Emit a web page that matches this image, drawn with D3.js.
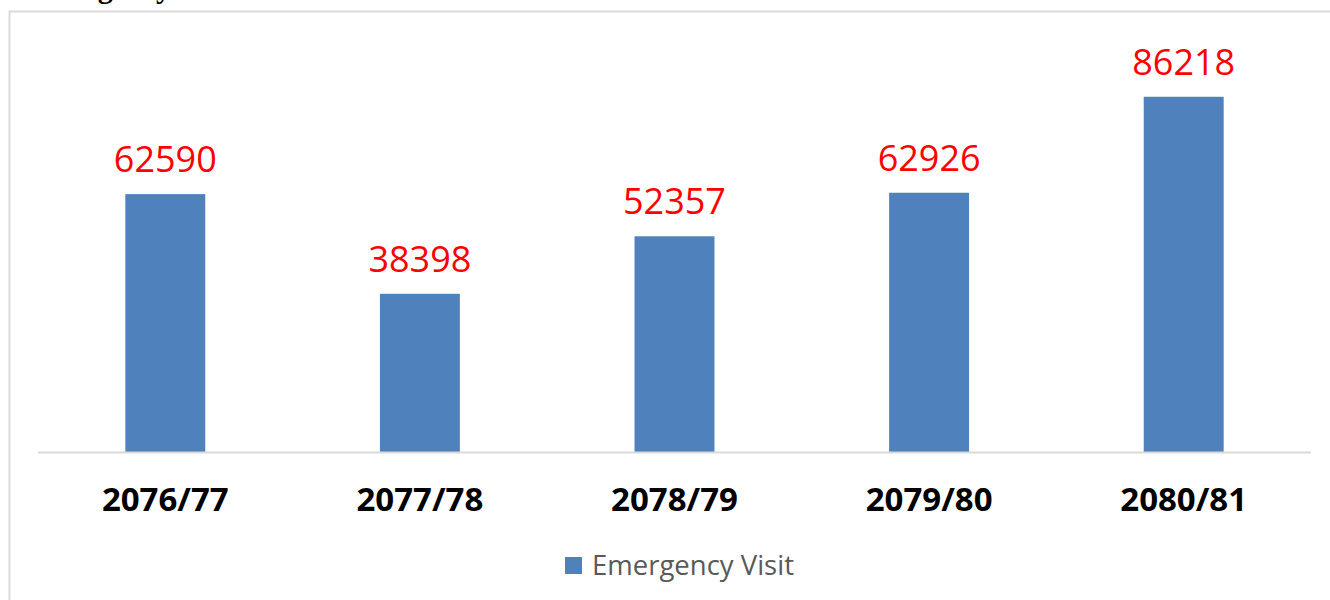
<!DOCTYPE html>
<html>
<head>
<meta charset="utf-8">
<script src="https://cdn.jsdelivr.net/npm/d3@7"></script>
<style>
  body { margin: 0; background: #fff; }
  #chart { width: 1330px; height: 600px; }
</style>
</head>
<body>
<div id="chart"></div>
<script>
const years = ["2076/77", "2077/78", "2078/79", "2079/80", "2080/81"];
const visits = [62590, 38398, 52357, 62926, 86218];
const seriesName = "Emergency Visit";

const width = 1330, height = 600;
const margin = { left: 38, right: 19, top: 40, bottom: 148 };

const svg = d3.select("#chart")
  .append("svg")
  .attr("width", width)
  .attr("height", height);

// title from the page, cut off at the top edge
svg.append("text")
  .attr("x", 26)
  .attr("y", -2)
  .attr("font-family", "Liberation Serif, serif")
  .attr("font-weight", "bold")
  .attr("font-size", 30)
  .text("Emergency Visit");

// chart area border
svg.append("rect")
  .attr("x", 9.5)
  .attr("y", 11.5)
  .attr("width", 1340)
  .attr("height", 620)
  .attr("fill", "none")
  .attr("stroke", "#d9d9d9")
  .attr("stroke-width", 2);

const x = d3.scaleBand()
  .domain(years)
  .range([margin.left, width - margin.right])
  .paddingInner(0.686)
  .paddingOuter(0.343);

const y = d3.scaleLinear()
  .domain([0, 100000])
  .range([height - margin.bottom, margin.top]);

svg.append("g")
  .selectAll("rect")
  .data(visits)
  .enter().append("rect")
  .attr("x", (d, i) => x(years[i]))
  .attr("y", d => y(d))
  .attr("width", x.bandwidth())
  .attr("height", d => y(0) - y(d))
  .attr("fill", "#4f81bd");

// baseline
svg.append("line")
  .attr("x1", margin.left)
  .attr("x2", width - margin.right)
  .attr("y1", y(0) + 0.5)
  .attr("y2", y(0) + 0.5)
  .attr("stroke", "#d9d9d9")
  .attr("stroke-width", 2);

// value labels
svg.append("g")
  .attr("font-family", "Open Sans, sans-serif")
  .attr("font-size", 36)
  .attr("fill", "#ff0000")
  .attr("text-anchor", "middle")
  .selectAll("text")
  .data(visits)
  .enter().append("text")
  .attr("x", (d, i) => x(years[i]) + x.bandwidth() / 2)
  .attr("y", d => y(d) - 22)
  .text(d => d);

// category labels
svg.append("g")
  .attr("font-family", "Open Sans, sans-serif")
  .attr("font-size", 33)
  .attr("font-weight", "bold")
  .attr("fill", "#000")
  .attr("text-anchor", "middle")
  .selectAll("text")
  .data(years)
  .enter().append("text")
  .attr("x", d => x(d) + x.bandwidth() / 2)
  .attr("y", 511)
  .text(d => d);

// legend
const legend = svg.append("g").attr("transform", "translate(565,557)");
legend.append("rect")
  .attr("width", 17)
  .attr("height", 17)
  .attr("fill", "#4f81bd");
legend.append("text")
  .attr("x", 27)
  .attr("y", 18)
  .attr("font-family", "Open Sans, sans-serif")
  .attr("font-size", 27.5)
  .attr("fill", "#595959")
  .text(seriesName);
</script>
</body>
</html>
